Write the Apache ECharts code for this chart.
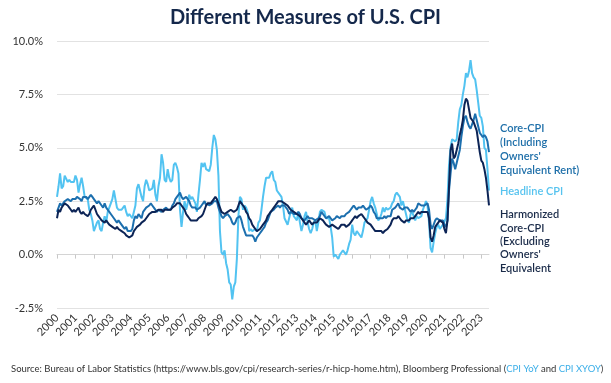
<!DOCTYPE html>
<html>
<head>
<meta charset="utf-8">
<script src="https://cdn.jsdelivr.net/npm/echarts@6/dist/echarts.min.js"></script>
<style>
html,body{margin:0;padding:0;background:#fff;}
#chart{width:611px;height:383px;}
</style>
</head>
<body>
<div id="chart"></div>
<script>
// ---- Data (monthly, Jan 2000 - Jun 2023, YoY %) ----
var startYear = 2000, endYear = 2023, endMonth = 6;
var months = [];
for (var y = startYear; y <= endYear; y++) {
  for (var m = 1; m <= 12; m++) {
    if (y === endYear && m > endMonth) break;
    months.push(y + '-' + (m < 10 ? '0' + m : m));
  }
}
var yTicks = [-2.5, 0, 2.5, 5, 7.5, 10];

var headlineCPI = [
2.7,3.2,3.8,3.1,3.2,3.7,3.7,3.4,3.5,3.4,3.4,3.4,
3.7,3.5,2.9,3.3,3.6,3.2,2.7,2.7,2.6,2.1,1.9,1.6,
1.1,1.1,1.5,1.6,1.2,1.1,1.5,1.8,1.5,2.0,2.2,2.4,
2.6,3.0,3.0,2.2,2.1,2.1,2.1,2.2,2.3,2.0,1.8,1.9,
1.9,1.7,1.7,2.3,3.1,3.3,3.0,2.7,2.5,3.2,3.5,3.3,
3.0,3.0,3.1,3.5,2.8,2.5,3.2,3.6,4.7,4.3,3.5,3.4,
4.0,3.6,3.4,3.5,4.2,4.3,4.1,3.8,2.1,1.3,2.0,2.5,
2.1,2.4,2.8,2.6,2.7,2.7,2.4,2.0,2.8,3.5,4.3,4.1,
4.3,4.0,4.0,3.9,4.2,5.0,5.6,5.4,4.9,3.7,1.1,0.1,
0.0,0.2,-0.4,-0.7,-1.3,-1.4,-2.1,-1.5,-1.3,-0.2,1.8,2.7,
2.6,2.1,2.3,2.2,2.0,1.1,1.2,1.1,1.1,1.2,1.1,1.5,
1.6,2.1,2.7,3.2,3.6,3.6,3.6,3.8,3.9,3.5,3.4,3.0,
2.9,2.9,2.7,2.3,1.7,1.7,1.4,1.7,2.0,2.2,1.8,1.7,
1.6,2.0,1.5,1.1,1.4,1.8,2.0,1.5,1.2,1.0,1.2,1.5,
1.6,1.1,1.5,2.0,2.1,2.1,2.0,1.7,1.7,1.7,1.3,0.8,
-0.1,0.0,-0.1,-0.2,0.0,0.1,0.2,0.2,0.0,0.2,0.5,0.7,
1.4,1.0,0.9,1.1,1.0,1.0,0.8,1.1,1.5,1.6,1.7,2.1,
2.5,2.7,2.4,2.2,1.9,1.6,1.7,1.9,2.2,2.0,2.2,2.1,
2.1,2.2,2.4,2.5,2.8,2.9,2.9,2.7,2.3,2.5,2.2,1.9,
1.6,1.5,1.9,2.0,1.8,1.6,1.8,1.7,1.7,1.8,2.1,2.3,
2.5,2.3,1.5,0.3,0.1,0.6,1.0,1.3,1.4,1.2,1.2,1.4,
1.4,1.7,2.6,4.2,5.0,5.4,5.4,5.3,5.4,6.2,6.8,7.0,
7.5,7.9,8.5,8.3,8.6,9.1,8.5,8.3,8.2,7.7,7.1,6.5,
6.4,6.0,5.0,4.9,4.0,3.0
];

var coreCPI = [
2.0,2.2,2.4,2.3,2.4,2.5,2.5,2.6,2.6,2.5,2.6,2.6,
2.6,2.7,2.7,2.6,2.5,2.7,2.7,2.7,2.6,2.6,2.8,2.7,
2.6,2.6,2.4,2.5,2.5,2.3,2.2,2.4,2.2,2.2,2.0,1.9,
1.9,1.7,1.7,1.5,1.6,1.5,1.5,1.3,1.2,1.3,1.1,1.1,
1.1,1.2,1.6,1.8,1.7,1.9,1.8,1.7,2.0,2.0,2.2,2.2,
2.3,2.4,2.3,2.2,2.2,2.0,2.1,2.1,2.0,2.1,2.1,2.2,
2.1,2.1,2.1,2.3,2.4,2.6,2.7,2.8,2.9,2.7,2.6,2.6,
2.7,2.7,2.5,2.3,2.2,2.2,2.2,2.1,2.1,2.2,2.3,2.4,
2.5,2.3,2.4,2.3,2.3,2.4,2.5,2.5,2.5,2.2,2.0,1.8,
1.7,1.8,1.8,1.9,1.8,1.7,1.5,1.4,1.5,1.7,1.7,1.8,
1.6,1.3,1.1,0.9,0.9,0.9,0.9,0.9,0.8,0.6,0.8,0.8,
1.0,1.1,1.2,1.3,1.5,1.6,1.8,2.0,2.0,2.1,2.2,2.2,
2.3,2.2,2.3,2.3,2.3,2.2,2.1,1.9,2.0,2.0,1.9,1.9,
1.9,2.0,1.9,1.7,1.7,1.6,1.7,1.8,1.7,1.7,1.7,1.7,
1.6,1.6,1.7,1.8,2.0,1.9,1.9,1.7,1.7,1.8,1.7,1.6,
1.6,1.7,1.8,1.8,1.7,1.8,1.8,1.8,1.9,1.9,2.0,2.1,
2.2,2.3,2.2,2.1,2.2,2.2,2.2,2.3,2.2,2.1,2.1,2.2,
2.3,2.2,2.0,1.9,1.7,1.7,1.7,1.7,1.7,1.8,1.7,1.8,
1.8,1.8,2.1,2.1,2.2,2.3,2.4,2.2,2.2,2.1,2.2,2.2,
2.2,2.1,2.0,2.1,2.0,2.1,2.2,2.4,2.4,2.3,2.3,2.3,
2.3,2.4,2.1,1.4,1.2,1.2,1.6,1.7,1.7,1.6,1.6,1.6,
1.4,1.3,1.6,3.0,3.8,4.5,4.3,4.0,4.0,4.6,4.9,5.5,
6.0,6.4,6.5,6.2,6.0,5.9,5.9,6.3,6.6,6.3,6.0,5.7,
5.6,5.5,5.6,5.5,5.3,4.8
];

var harmonizedCoreCPI = [
1.7,2.1,2.0,2.2,2.3,2.4,2.4,2.3,2.2,2.1,2.0,2.1,
2.0,2.1,2.2,2.0,1.9,2.0,1.9,1.9,1.8,1.9,2.1,2.2,
2.3,2.1,1.9,1.8,1.7,1.6,1.6,1.5,1.6,1.5,1.4,1.4,
1.3,1.3,1.2,1.3,1.2,1.2,1.1,1.1,1.0,0.9,0.9,0.8,
0.8,0.9,1.1,1.2,1.3,1.3,1.4,1.5,1.5,1.6,1.7,1.8,
1.9,1.9,2.0,2.0,2.0,2.0,2.1,2.1,2.1,2.0,2.1,2.1,
2.1,2.1,2.1,2.2,2.2,2.3,2.4,2.4,2.4,2.3,2.2,2.1,
1.9,1.8,1.7,1.6,1.6,1.6,1.6,1.6,1.7,1.7,1.8,1.9,
2.1,2.3,2.4,2.4,2.4,2.5,2.6,2.7,2.6,2.4,2.2,2.0,
2.0,1.9,1.9,2.0,2.0,2.1,2.1,2.0,2.0,2.1,2.3,2.5,
2.4,2.3,2.2,2.0,1.9,1.7,1.6,1.4,1.3,1.2,1.1,1.1,
1.2,1.3,1.4,1.5,1.6,1.8,1.9,2.0,2.1,2.2,2.3,2.4,
2.5,2.5,2.5,2.5,2.4,2.4,2.3,2.2,2.1,2.1,2.0,2.0,
1.9,1.9,1.8,1.7,1.6,1.5,1.4,1.5,1.6,1.5,1.4,1.5,
1.5,1.5,1.6,1.7,1.7,1.6,1.5,1.4,1.4,1.3,1.3,1.4,
1.4,1.3,1.3,1.2,1.3,1.4,1.4,1.4,1.3,1.3,1.4,1.5,
1.6,1.7,1.8,1.7,1.8,1.8,1.9,1.8,1.7,1.6,1.5,1.5,
1.4,1.3,1.2,1.1,1.1,1.1,1.1,1.1,1.0,1.1,1.1,1.2,
1.3,1.4,1.6,1.7,1.7,1.7,1.8,1.7,1.6,1.6,1.5,1.6,
1.6,1.6,1.7,1.7,1.7,1.8,1.9,2.0,1.9,2.0,2.0,2.0,
2.0,2.0,1.7,0.8,0.6,0.9,1.3,1.4,1.5,1.6,1.6,1.5,
1.2,1.0,1.6,3.2,4.9,5.2,4.5,4.6,4.9,5.2,5.6,5.9,
6.3,7.0,7.3,7.2,6.8,6.4,6.3,6.2,6.2,5.8,5.3,4.8,
4.4,4.3,4.0,3.6,3.0,2.3
];

var colHeadline = '#52c3f1';
var colCore = '#1c6fae';
var colHarm = '#0c2456';

function isJan(idx) { return idx % 12 === 0; }

var chart = echarts.init(document.getElementById('chart'));
chart.setOption({
  animation: false,
  textStyle: { fontFamily: 'Lato, "Noto Sans", sans-serif' },
  title: [
    {
      text: 'Different Measures of U.S. CPI',
      left: 'center', top: 3,
      textStyle: { fontFamily: 'Lato, sans-serif', fontWeight: 'bold', fontSize: 20, color: '#14284b' }
    },
    {
      text: '{a|Source: Bureau of Labor Statistics (https://www.bls.gov/cpi/research-series/r-hicp-home.htm), Bloomberg Professional (}{b|CPI YoY}{a| and }{b|CPI XYOY}{a|)}',
      left: 6, top: 359,
      textStyle: {
        fontWeight: 'normal',
        rich: {
          a: { fontFamily: 'Lato, sans-serif', fontWeight: 'normal', fontSize: 9.5, color: '#333333' },
          b: { fontFamily: 'Lato, sans-serif', fontWeight: 'normal', fontSize: 9.5, color: '#3aaee8' }
        }
      }
    }
  ],
  grid: { left: 57, right: 122, top: 41, bottom: 75, containLabel: false },
  xAxis: [
    {
      type: 'category', data: months, boundaryGap: false, position: 'bottom',
      axisLine: { show: false, onZero: false },
      axisTick: { show: false },
      splitLine: { show: false },
      axisLabel: {
        interval: function (i) { return isJan(i); },
        formatter: function (v) { return v.slice(0, 4); },
        rotate: 45, margin: 8, fontSize: 11, color: '#333333'
      }
    },
    {
      type: 'category', data: months, boundaryGap: false, position: 'bottom',
      axisLine: { show: true, onZero: true, lineStyle: { color: '#d4d4d4', width: 1 } },
      axisTick: { show: true, interval: function (i) { return isJan(i); }, length: 4, lineStyle: { color: '#c8c8c8' } },
      axisLabel: { show: false },
      splitLine: { show: false }
    }
  ],
  yAxis: {
    type: 'value', min: yTicks[0], max: yTicks[yTicks.length - 1], interval: 2.5,
    axisLine: { show: false }, axisTick: { show: false },
    axisLabel: { formatter: function (v) { return v.toFixed(1) + '%'; }, fontSize: 11, color: '#333333', margin: 14 },
    splitLine: { lineStyle: { color: '#e2e2e2', width: 1 } }
  },
  series: [
    { name: 'Headline CPI', type: 'line', data: headlineCPI, showSymbol: false, xAxisIndex: 0,
      lineStyle: { color: colHeadline, width: 2 }, itemStyle: { color: colHeadline } },
    { name: 'Core-CPI', type: 'line', data: coreCPI, showSymbol: false, xAxisIndex: 0,
      lineStyle: { color: colCore, width: 2 }, itemStyle: { color: colCore } },
    { name: 'Harmonized Core-CPI', type: 'line', data: harmonizedCoreCPI, showSymbol: false, xAxisIndex: 0,
      lineStyle: { color: colHarm, width: 2 }, itemStyle: { color: colHarm } }
  ],
  graphic: [
    { type: 'text', left: 500, top: 122,
      style: { text: "Core-CPI\n(Including\nOwners'\nEquivalent Rent)", fill: '#1e6fa9',
               font: '600 11px Lato, sans-serif', lineHeight: 13.8 } },
    { type: 'text', left: 500, top: 185,
      style: { text: 'Headline CPI', fill: '#56c3ef', font: '600 11px Lato, sans-serif', lineHeight: 13.8 } },
    { type: 'text', left: 500, top: 208,
      style: { text: "Harmonized\nCore-CPI\n(Excluding\nOwners'\nEquivalent", fill: '#1a2b49',
               font: '600 11px Lato, sans-serif', lineHeight: 13.4 } }
  ]
});
</script>
</body>
</html>
